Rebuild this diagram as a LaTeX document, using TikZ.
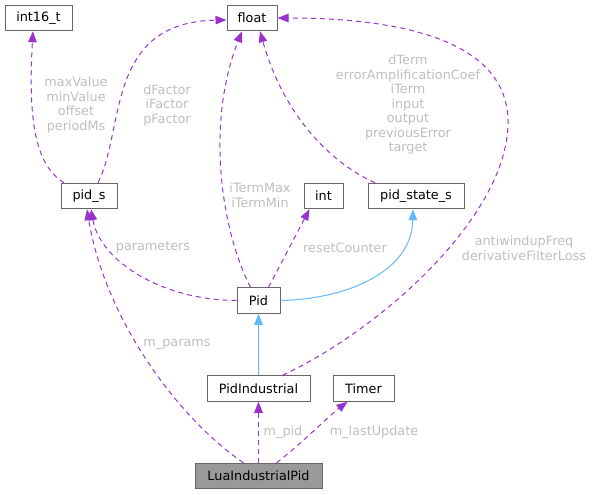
\documentclass[tikz,border=0pt]{standalone}
\usepackage{fontspec}
\setmainfont{DejaVu Sans}
\usetikzlibrary{arrows.meta}
\definecolor{edgep}{HTML}{9A32CD}
\definecolor{edgeb}{HTML}{63B8FF}
\definecolor{lblgray}{HTML}{BEBEBE}
\definecolor{boxgray}{HTML}{666666}
\definecolor{fillgray}{HTML}{999999}
\tikzset{
  cls/.style={draw=boxgray, line width=1pt, fill=white, inner sep=0pt, minimum height=25.5pt, text=black},
  rel/.style={edgep, line width=1pt, dash pattern=on 5pt off 4pt, -{Triangle[length=11pt,width=8.5pt]}},
  inh/.style={edgeb, line width=1pt, -{Triangle[length=11pt,width=8.5pt]}},
  elbl/.style={text=lblgray, align=center, inner sep=0pt}
}
\begin{document}
\begin{tikzpicture}[x=1pt,y=-1pt, font=\fontsize{12.8}{14.5}\selectfont]
\useasboundingbox (0,0) rectangle (595,495);
% nodes
\node[cls, minimum width=67pt] (int16) at (38.5,18) {int16\_t};
\node[cls, minimum width=50pt] (float) at (252,18) {float};
\node[cls, minimum width=56pt] (pids) at (89,196) {pid\_s};
\node[cls, minimum width=39pt] (int) at (323.5,196) {int};
\node[cls, minimum width=96pt] (pst) at (416,196) {pid\_state\_s};
\node[cls, minimum width=43pt] (pid) at (258.5,300.5) {Pid};
\node[cls, minimum width=103pt] (pind) at (258.5,388.5) {PidIndustrial};
\node[cls, minimum width=61pt] (timer) at (363.5,388.5) {Timer};
\node[cls, minimum width=127pt, fill=fillgray] (lua) at (258.5,476) {LuaIndustrialPid};
% edges
\draw[rel] ([xshift=-25pt]pids.north) .. controls (35,165) and (28,120) .. ([xshift=-5.5pt]int16.south);
\draw[rel] ([xshift=9pt]pids.north) .. controls (125,130) and (105,22) .. ([yshift=-2pt]float.west);
\draw[rel] ([xshift=-8pt]pid.north) .. controls (222,232) and (205,125) .. ([xshift=-10pt]float.south);
\draw[rel] ([xshift=-41pt]pst.north) .. controls (335,165) and (285,120) .. ([xshift=8pt]float.south);
\draw[rel] ([xshift=10pt]pid.north) -- ([xshift=-14pt]int.south);
\draw[inh] (pid.east) .. controls (350,299) and (412,270) .. ([xshift=-3pt]pst.south);
\draw[rel] ([xshift=24pt]pind.north) .. controls (380,330) and (510,215) .. (508,120) .. controls (506,40) and (400,18) .. (float.east);
\draw[rel] (pid.west) .. controls (160,300) and (100,260) .. ([xshift=2pt]pids.south);
\draw[rel] ([xshift=-15pt]lua.north) .. controls (180,420) and (105,320) .. ([xshift=-2pt]pids.south);
\draw[rel] (lua.north) -- (pind.south);
\draw[rel] ([xshift=18pt]lua.north) .. controls (300,445) and (330,415) .. ([xshift=-16pt]timer.south);
\draw[inh] (pind.north) -- (pid.south);
% labels
\node[elbl] (l1) at (76,105) {maxValue\\minValue\\offset\\periodMs};
\node[elbl] (l2) at (167,105) {dFactor\\iFactor\\pFactor};
\node[elbl] (l3) at (260,195) {iTermMax\\iTermMin};
\node[elbl] (l4) at (408,104.5) {dTerm\\errorAmplificationCoef\\iTerm\\input\\output\\previousError\\target};
\node[elbl] (l5) at (345,248) {resetCounter};
\node[elbl] (l6) at (524,248) {antiwindupFreq\\derivativeFilterLoss};
\node[elbl] (l7) at (153,247) {parameters};
\node[elbl] (l8) at (177,344) {m\_params};
\node[elbl] (l9) at (283,432) {m\_pid};
\node[elbl] (l10) at (374,432) {m\_lastUpdate};
\end{tikzpicture}
\end{document}
